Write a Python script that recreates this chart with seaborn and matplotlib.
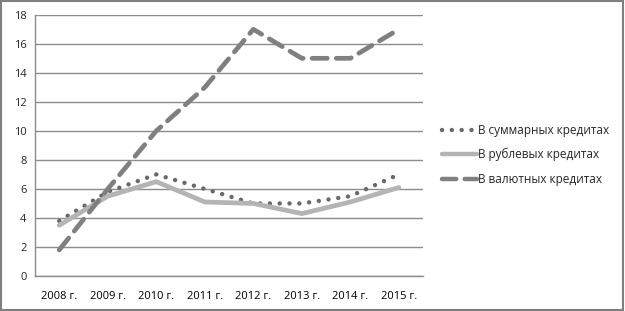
import pandas as pd
import numpy as np
import matplotlib.pyplot as plt
import seaborn as sns
from matplotlib.patches import Rectangle

sns.set_style("white")
plt.rcParams['font.family'] = ['Open Sans', 'DejaVu Sans']

# data
years = ['2008 г.', '2009 г.', '2010 г.', '2011 г.', '2012 г.', '2013 г.', '2014 г.', '2015 г.']
total = [3.8, 5.8, 7.0, 6.0, 5.0, 5.0, 5.5, 7.0]
rouble = [3.5, 5.5, 6.5, 5.1, 5.0, 4.3, 5.1, 6.1]
currency = [1.8, 6.0, 10.0, 13.0, 17.0, 15.0, 15.0, 17.0]
names = ['В суммарных кредитах', 'В рублевых кредитах', 'В валютных кредитах']

df = pd.DataFrame({'year': years, names[0]: total, names[1]: rouble, names[2]: currency})
long = df.melt(id_vars='year', var_name='series', value_name='value')
long['x'] = long['year'].map({y: i for i, y in enumerate(years)})

fig = plt.figure(figsize=(6.25, 3.11), dpi=100)
ax = fig.add_axes([0.056, 0.1125, 0.621, 0.84])

styles = {
    names[0]: dict(color='#6a6a6a', lw=3.2, dashes=(0.01, 2.2)),
    names[1]: dict(color='#b4b4b4', lw=3.4),
    names[2]: dict(color='#808080', lw=3.4, dashes=(3.2, 1.9)),
}
for name in names:
    sub = long[long['series'] == name]
    st = styles[name]
    sns.lineplot(data=sub, x='x', y='value', ax=ax, color=st['color'], lw=st['lw'], label=name)
    l = ax.get_lines()[-1]
    if 'dashes' in st:
        l.set_dashes(st['dashes'])
        l.set_dash_capstyle('round')

ax.set_xlim(-0.5, 7.5)
ax.set_ylim(0, 18)
ax.set_yticks(range(0, 19, 2))
ax.set_xticks(range(8))
ax.set_xticklabels(years)
ax.set_xticks(np.arange(-0.5, 8, 1), minor=True)
ax.tick_params(axis='x', which='major', length=0, labelsize=8, pad=11, colors='#000000')
ax.tick_params(axis='x', which='minor', length=4, color='#8c8c8c', width=1, direction='out')
ax.tick_params(axis='y', length=4, color='#8c8c8c', labelsize=8, direction='out', pad=2)
ax.set_xlabel('')
ax.set_ylabel('')
ax.yaxis.grid(True, color='#8c8c8c', lw=1)
ax.set_axisbelow(True)
for s in ['top', 'right']:
    ax.spines[s].set_visible(False)
for s in ['left', 'bottom']:
    ax.spines[s].set_color('#8c8c8c')
    ax.spines[s].set_linewidth(1)

leg = ax.legend(loc='center left', bbox_to_anchor=(1.02, 0.464), frameon=False, fontsize=8.5,
                handlelength=3.0, handletextpad=0.1, labelspacing=0.95)
for h in leg.get_lines():
    h.set_linewidth(3.2)

fig.add_artist(Rectangle((0.002, 0.003), 0.995, 0.993, transform=fig.transFigure,
                         fill=False, edgecolor='#7f7f7f', lw=1.5))
fig.savefig('out.png', dpi=100)
